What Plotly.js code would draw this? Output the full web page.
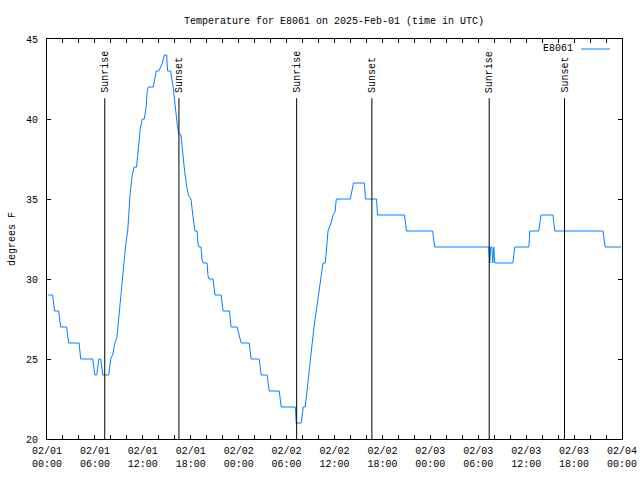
<!DOCTYPE html>
<html>
<head>
<meta charset="utf-8">
<script src="https://cdn.plot.ly/plotly-3.0.1.min.js"></script>
<style>
html,body{margin:0;padding:0;background:#fff;}
#chart{width:640px;height:480px;}
</style>
</head>
<body>
<div id="chart"></div>
<script>
// Hours since 2025-02-01 00:00 UTC
var timeHours = [0.16,0.70,0.95,1.46,1.71,2.46,2.71,4.02,4.22,5.73,5.98,6.23,6.48,6.73,6.98,7.73,7.98,8.24,8.49,8.74,8.86,9.11,9.37,9.62,9.83,10.12,10.30,10.42,10.67,10.92,11.21,11.43,11.68,11.93,12.18,12.43,12.55,12.68,13.31,13.68,14.01,14.44,14.69,14.98,15.10,15.48,15.82,16.32,16.48,16.77,16.99,17.24,17.49,17.74,18.03,18.15,18.28,18.53,18.78,18.91,19.03,19.28,19.41,19.54,20.04,20.16,20.29,20.79,21.04,21.80,22.05,22.85,23.05,23.80,24.31,25.31,25.56,26.57,26.82,27.57,27.82,29.08,29.33,31.09,31.21,31.84,32.09,32.34,32.97,33.43,34.56,34.85,35.19,35.57,35.82,36.07,36.23,37.99,38.37,39.75,39.87,41.26,41.38,44.77,45.02,48.29,48.54,55.32,55.44,55.57,55.69,55.82,55.95,56.07,58.33,58.58,60.34,60.46,61.59,61.85,63.35,63.60,69.63,69.88,71.89];
var tempF = [29,29,28,28,27,27,26,26,25,25,24,24,25,25,24,24,25,25.3,26,26.3,26.9,28.2,29.6,31.2,32,33.1,34.4,35.4,36.5,37,37,38.3,39.4,40,40,40.8,41.8,42,42,43,43,43.5,44,44,43,43,41.9,39.6,39.1,39,37.7,36.7,35.8,35.2,35,34.6,33.9,33,33,32.2,32,32,31.2,31,31,30.2,30,30,29,29,28,28,27,27,26,26,25,25,24,24,23,23,22,22,21,21,22,22,24.8,27,31,31,33,33.5,34,34.2,35,35,36,36,35,35,34,34,33,33,32,32,31,32,32,31,32,31,31,32,32,33,33,34,34,33,33,32,32];

var sunTimes = [7.23,16.52,31.26,40.68,55.37,64.80];
var sunLabels = ["Sunrise","Sunset","Sunrise","Sunset","Sunrise","Sunset"];

var tickHours = [0,2,4,6,8,10,12,14,16,18,20,22,24,26,28,30,32,34,36,38,40,42,44,46,48,50,52,54,56,58,60,62,64,66,68,70,72];
var tickLabels = ["02/01<br>00:00","","","02/01<br>06:00","","","02/01<br>12:00","","","02/01<br>18:00","","","02/02<br>00:00","","","02/02<br>06:00","","","02/02<br>12:00","","","02/02<br>18:00","","","02/03<br>00:00","","","02/03<br>06:00","","","02/03<br>12:00","","","02/03<br>18:00","","","02/04<br>00:00"];
var yTicks = [20,25,30,35,40,45];

var seriesName = "E8061";
var lineColor = "#0080ff";
var monoFont = "Liberation Mono, DejaVu Sans Mono, monospace";

var shapes = [];
var annotations = [];
for (var i = 0; i < sunTimes.length; i++) {
  shapes.push({type:"line", xref:"x", yref:"y", x0:sunTimes[i], x1:sunTimes[i], y0:20, y1:41.3,
    line:{color:"#000", width:1}});
  annotations.push({xref:"x", yref:"y", x:sunTimes[i], y:41.5, text:sunLabels[i], textangle:-90,
    showarrow:false, xanchor:"center", yanchor:"bottom", font:{family:monoFont, size:10, color:"#000"}});
}
// key (gnuplot style: text then line sample)
annotations.push({xref:"paper", yref:"paper", x:0.919, y:0.977, text:seriesName, showarrow:false,
  xanchor:"right", yanchor:"middle", font:{family:monoFont, size:10, color:"#000"}});
shapes.push({type:"line", xref:"paper", yref:"paper", x0:0.929, x1:0.979, y0:0.975, y1:0.975,
  line:{color:lineColor, width:1}});
// y-axis label
annotations.push({xref:"paper", yref:"paper", x:-0.061, y:0.5, text:"degrees F", textangle:-90,
  showarrow:false, xanchor:"center", yanchor:"middle", font:{family:monoFont, size:10, color:"#000"}});

var trace = {x:timeHours, y:tempF, type:"scatter", mode:"lines", name:seriesName,
  line:{color:lineColor, width:1}, showlegend:false};

var layout = {
  width:640, height:480,
  margin:{l:47, r:18, t:39, b:41},
  paper_bgcolor:"#fff", plot_bgcolor:"#fff",
  font:{family:monoFont, size:10, color:"#000"},
  title:{text:"Temperature for E8061 on 2025-Feb-01 (time in UTC)", x:0.522, xref:"container",
    y:0.958, yanchor:"middle", font:{family:monoFont, size:10, color:"#000"}},
  xaxis:{range:[0,72], tickmode:"array", tickvals:tickHours, ticktext:tickLabels,
    showgrid:false, zeroline:false, showline:true, linecolor:"#000", linewidth:1, mirror:"ticks",
    ticks:"inside", ticklen:4, tickcolor:"#000", tickwidth:1, ticklabelstandoff:2,
    tickfont:{family:monoFont, size:10, color:"#000"}},
  yaxis:{range:[20,45], tickmode:"array", tickvals:yTicks, ticktext:yTicks.map(String),
    showgrid:false, zeroline:false, showline:true, linecolor:"#000", linewidth:1, mirror:"ticks",
    ticks:"inside", ticklen:4, tickcolor:"#000", tickwidth:1, ticklabelstandoff:6,
    tickfont:{family:monoFont, size:10, color:"#000"}},
  shapes:shapes,
  annotations:annotations,
  showlegend:false
};

Plotly.newPlot("chart", [trace], layout, {staticPlot:true, displayModeBar:false});
</script>
</body>
</html>
